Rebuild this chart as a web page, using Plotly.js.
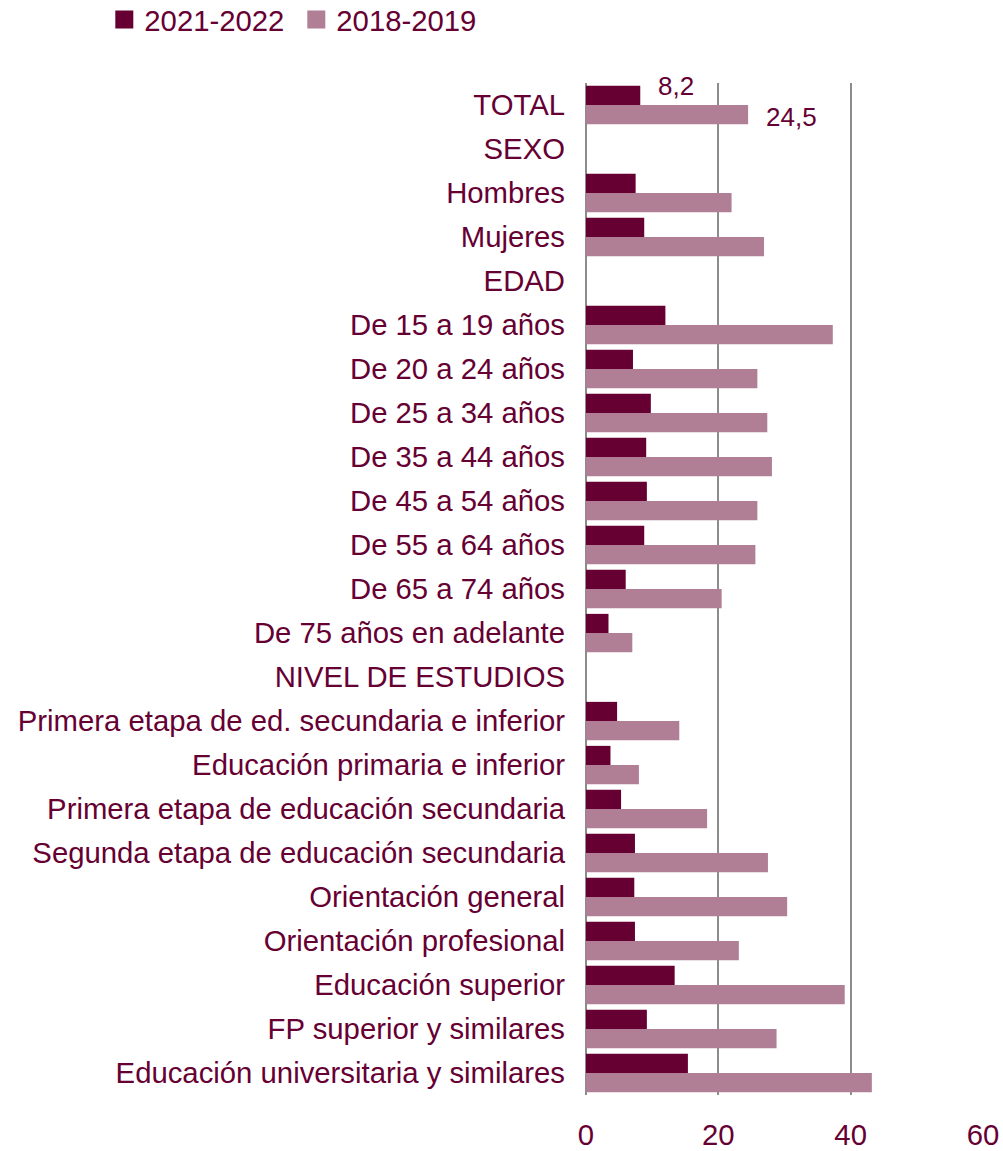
<!DOCTYPE html>
<html>
<head>
<meta charset="utf-8">
<script src="https://cdn.plot.ly/plotly-3.0.1.min.js"></script>
<style>html,body{margin:0;padding:0;background:#fff;}#chart{width:1003px;height:1151px;}</style>
</head>
<body>
<div id="chart"></div>
<script>
const categories = [
  "TOTAL", "SEXO", "Hombres", "Mujeres", "EDAD",
  "De 15 a 19 años", "De 20 a 24 años", "De 25 a 34 años", "De 35 a 44 años",
  "De 45 a 54 años", "De 55 a 64 años", "De 65 a 74 años", "De 75 años en adelante",
  "NIVEL DE ESTUDIOS",
  "Primera etapa de ed. secundaria e inferior", "Educación primaria e inferior",
  "Primera etapa de educación secundaria", "Segunda etapa de educación secundaria",
  "Orientación general", "Orientación profesional", "Educación superior",
  "FP superior y similares", "Educación universitaria y similares"
];
const series2021 = [8.2, null, 7.5, 8.8, null, 12.0, 7.1, 9.8, 9.1, 9.2, 8.8, 6.0, 3.4, null,
  4.7, 3.7, 5.3, 7.4, 7.3, 7.4, 13.4, 9.2, 15.4];
const series2018 = [24.5, null, 22.0, 26.9, null, 37.3, 25.9, 27.4, 28.1, 25.9, 25.6, 20.5, 7.0, null,
  14.1, 8.0, 18.3, 27.5, 30.4, 23.1, 39.1, 28.8, 43.2];
const seriesNames = ["2021-2022", "2018-2019"];
const xTicks = [0, 20, 40, 60];

const dark = "#660033";
const light = "#b07f96";
const textColor = "#660033";
const fontFamily = "Liberation Sans, Arial, sans-serif";
const fs = 29.3;
const fmt = v => v.toFixed(1).replace(".", ",");

const traces = [
  {type: "bar", orientation: "h", name: seriesNames[0], y: categories, x: series2021,
   marker: {color: dark}, showlegend: false, hoverinfo: "x"},
  {type: "bar", orientation: "h", name: seriesNames[1], y: categories, x: series2018,
   marker: {color: light}, showlegend: false, hoverinfo: "x"},
  // legend entries with larger square symbols
  {type: "scatter", mode: "markers", name: seriesNames[0], x: [null], y: [null],
   marker: {symbol: "square", size: 16, color: dark, line: {color: dark, width: 2}}},
  {type: "scatter", mode: "markers", name: seriesNames[1], x: [null], y: [null],
   marker: {symbol: "square", size: 16, color: light, line: {color: light, width: 2}}}
];

const annotations = [
  {x: series2021[0], y: categories[0], xref: "x", yref: "y", text: fmt(series2021[0]),
   showarrow: false, xanchor: "left", yanchor: "middle", xshift: 16, yshift: 19,
   font: {size: 26, color: textColor, family: fontFamily}},
  {x: series2018[0], y: categories[0], xref: "x", yref: "y", text: fmt(series2018[0]),
   showarrow: false, xanchor: "left", yanchor: "middle", xshift: 16, yshift: -12,
   font: {size: 26, color: textColor, family: fontFamily}}
];

const layout = {
  width: 1003, height: 1151,
  margin: {l: 586, r: 20, t: 83, b: 56, pad: 0, autoexpand: false},
  paper_bgcolor: "#fff", plot_bgcolor: "#fff",
  font: {family: fontFamily, size: fs, color: textColor},
  barmode: "group", bargap: 0.13, bargroupgap: 0,
  showlegend: true,
  legend: {orientation: "h", xref: "container", yref: "container", x: 0.104, y: 1 - 20 / 1151,
           xanchor: "left", yanchor: "middle", font: {size: fs, color: textColor},
           traceorder: "normal", itemclick: false, bgcolor: "rgba(0,0,0,0)",
           itemwidth: 30, tracegroupgap: 0, entrywidth: 147, entrywidthmode: "pixels"},
  xaxis: {range: [0, 60], tickvals: xTicks, ticktext: xTicks.map(String),
          showgrid: true, gridcolor: "#8c8c8c", gridwidth: 2,
          zeroline: true, zerolinecolor: "#8c8c8c", zerolinewidth: 2,
          showline: false, ticks: "", ticklabelstandoff: 20, automargin: false,
          tickfont: {size: fs, color: textColor}, fixedrange: true},
  yaxis: {type: "category", categoryorder: "array", categoryarray: categories,
          range: [categories.length - 0.5, -0.5], autorange: false,
          showgrid: false, zeroline: false, showline: false,
          ticks: "", ticklabelstandoff: 20, automargin: false,
          tickfont: {size: fs, color: textColor}, fixedrange: true},
  annotations: annotations
};

Plotly.newPlot("chart", traces, layout, {displayModeBar: false, staticPlot: true});
</script>
</body>
</html>
